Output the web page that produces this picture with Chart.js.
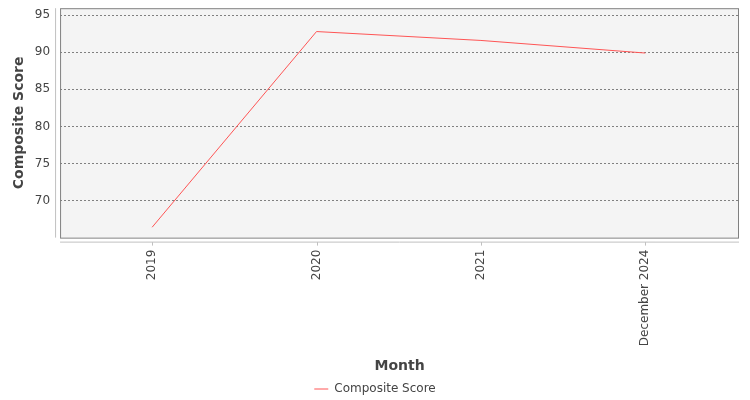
<!DOCTYPE html>
<html>
<head>
<meta charset="utf-8">
<script src="https://cdn.jsdelivr.net/npm/chart.js@4"></script>
<style>
  html, body { margin: 0; padding: 0; background: #ffffff; }
  #wrap { width: 750px; height: 400px; }
</style>
</head>
<body>
<div id="wrap"><canvas id="chart" width="750" height="400"></canvas></div>
<script>
const months = ["2019", "2020", "2021", "December 2024"];
const compositeScore = [66.4, 92.8, 91.6, 89.9];
const yTicks = [70, 75, 80, 85, 90, 95];

const points = compositeScore.map((v, i) => ({ x: i, y: v }));

// plot background, border and the detached axis lines
const plotFrame = {
  id: "plotFrame",
  beforeDraw(chart) {
    const a = chart.chartArea;
    const ctx = chart.ctx;
    ctx.save();
    ctx.fillStyle = "#f4f4f4";
    ctx.fillRect(a.left, a.top, a.right - a.left, a.bottom - a.top);
    ctx.restore();
  },
  afterDraw(chart) {
    const a = chart.chartArea;
    const ctx = chart.ctx;
    const xs = chart.scales.x;
    ctx.save();
    ctx.strokeStyle = "#808080";
    ctx.lineWidth = 1;
    ctx.strokeRect(a.left + 0.5, a.top + 0.5, a.right - a.left - 1, a.bottom - a.top);
    ctx.strokeStyle = "#c0c0c0";
    ctx.beginPath();
    ctx.moveTo(a.left - 4.5, a.top);
    ctx.lineTo(a.left - 4.5, a.bottom);
    ctx.moveTo(a.left, a.bottom + 4.5);
    ctx.lineTo(a.right, a.bottom + 4.5);
    months.forEach((m, i) => {
      const px = Math.round(xs.getPixelForValue(i)) + 0.5;
      ctx.moveTo(px, a.bottom + 4.5);
      ctx.lineTo(px, a.bottom + 8);
    });
    ctx.stroke();
    ctx.restore();
  }
};

new Chart(document.getElementById("chart"), {
  type: "line",
  data: {
    datasets: [{
      label: "Composite Score",
      data: points,
      borderColor: "#ff5555",
      backgroundColor: "#ff5555",
      borderWidth: 1,
      pointRadius: 0,
      tension: 0,
      fill: false
    }]
  },
  options: {
    responsive: false,
    animation: false,
    layout: { padding: { left: 11, right: 11, top: 0, bottom: -5 } },
    plugins: {
      legend: {
        position: "bottom",
        labels: {
          usePointStyle: true,
          pointStyle: "line",
          pointStyleWidth: 14,
          boxHeight: 1,
          color: "#444444",
          font: { family: "DejaVu Sans", size: 12 },
          padding: 2
        }
      },
      tooltip: { enabled: false }
    },
    scales: {
      x: {
        type: "linear",
        min: -0.56,
        max: 3.57,
        afterBuildTicks(scale) {
          scale.ticks = months.map((m, i) => ({ value: i }));
        },
        ticks: {
          autoSkip: false,
          maxRotation: 90,
          minRotation: 90,
          color: "#444444",
          font: { family: "DejaVu Sans", size: 12 },
          padding: 12,
          callback: (v) => months[v]
        },
        grid: { display: false, drawTicks: false },
        border: { display: false },
        title: {
          display: true,
          text: "Month",
          color: "#444444",
          font: { family: "DejaVu Sans", size: 14, weight: "bold" },
          padding: { top: 0, bottom: 6 }
        }
      },
      y: {
        min: 65.0,
        max: 95.95,
        afterBuildTicks(scale) {
          scale.ticks = yTicks.map(v => ({ value: v }));
        },
        ticks: {
          color: "#444444",
          font: { family: "DejaVu Sans", size: 12 },
          padding: 1
        },
        grid: { color: "#808080", lineWidth: 1, drawTicks: true, tickLength: 9, tickColor: "rgba(0,0,0,0)" },
        border: { display: false, dash: [2, 2] },
        title: {
          display: true,
          text: "Composite Score",
          color: "#444444",
          font: { family: "DejaVu Sans", size: 14, weight: "bold" },
          padding: { top: 0, bottom: 6 }
        }
      }
    }
  },
  plugins: [plotFrame]
});
</script>
</body>
</html>
